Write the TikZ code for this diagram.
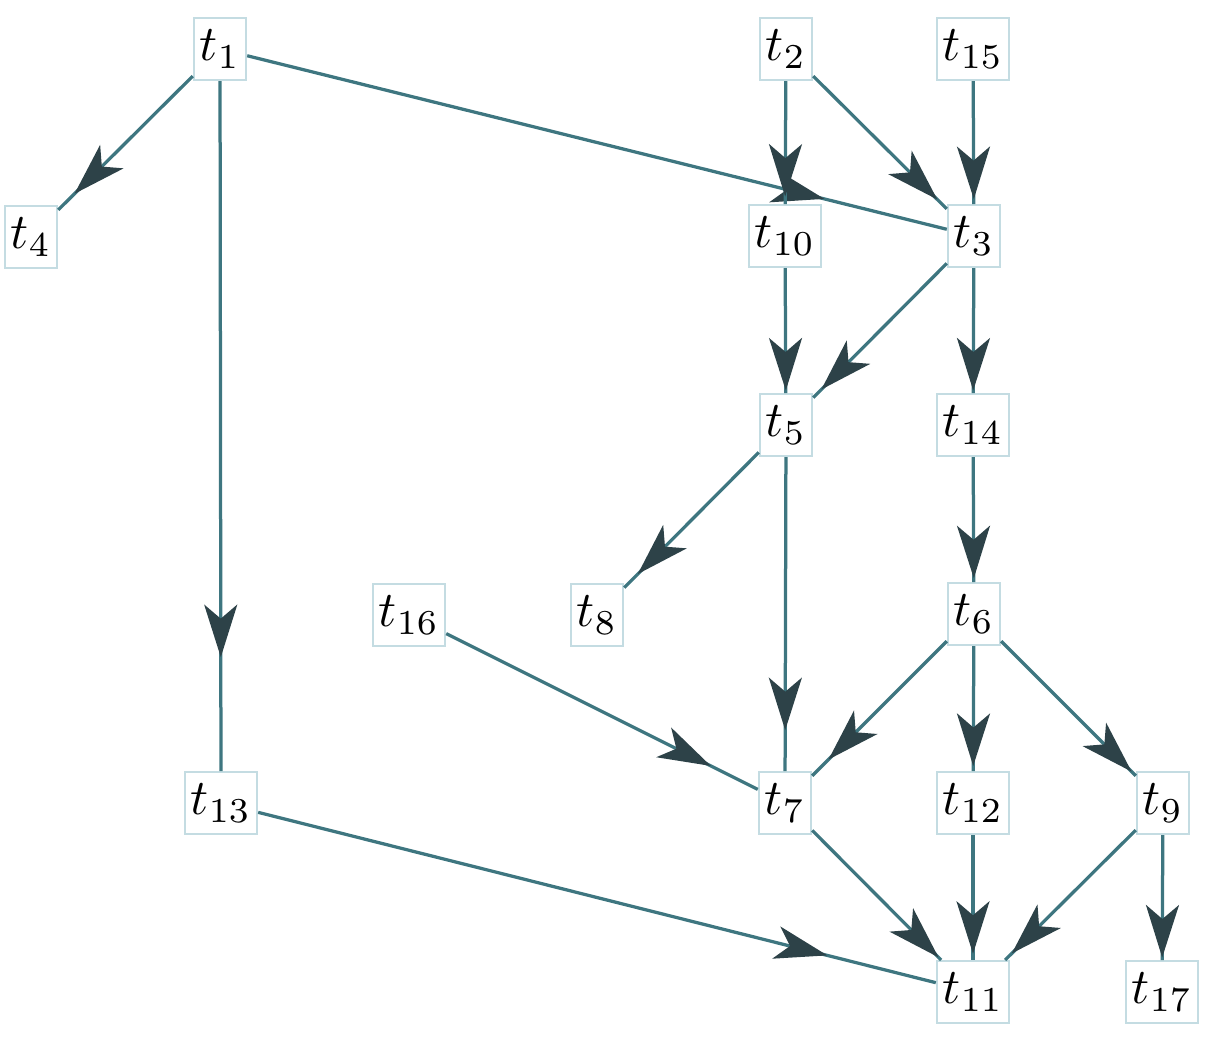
\documentclass[tikz,border=0pt]{standalone}
\usetikzlibrary{arrows.meta,decorations.markings}
\definecolor{boxc}{RGB}{196,220,226}
\definecolor{linec}{RGB}{62,118,128}
\definecolor{arrc}{RGB}{45,66,72}
\tikzset{
  tnode/.style={draw=boxc, line width=0.4pt, fill=white, minimum width=10pt,
    minimum height=12.4pt, inner xsep=1.2pt, inner ysep=0pt},
  conn/.style={draw=linec, line width=0.65pt, postaction={decorate},
    decoration={markings, mark=at position #1 with {\arrow{Stealth[length=10.5pt,width=6.6pt,inset=2.8pt,color=arrc,fill=arrc]}}}}
}
\begin{document}
\begin{tikzpicture}[x=0.2pt,y=-0.2pt]
\useasboundingbox (0,0) rectangle (1215,1043);
\node[tnode] (t1) at (220,49) {$t_1$};
\node[tnode] (t2) at (786,49) {$t_2$};
\node[tnode] (t15) at (973,49) {$t_{15}$};
\node[tnode] (t4) at (31,237) {$t_4$};
\node[tnode] (t10) at (785,236) {$t_{10}$};
\node[tnode] (t3) at (974,236) {$t_3$};
\node[tnode] (t5) at (786,425) {$t_5$};
\node[tnode] (t14) at (973,425) {$t_{14}$};
\node[tnode] (t16) at (409,615) {$t_{16}$};
\node[tnode] (t8) at (597,615) {$t_8$};
\node[tnode] (t6) at (974,614) {$t_6$};
\node[tnode] (t13) at (221,803) {$t_{13}$};
\node[tnode] (t7) at (785,803) {$t_7$};
\node[tnode] (t12) at (973,803) {$t_{12}$};
\node[tnode] (t9) at (1163,803) {$t_9$};
\node[tnode] (t11) at (973,992) {$t_{11}$};
\node[tnode] (t17) at (1162,992) {$t_{17}$};
\draw[conn=0.88] (t1) -- (t4);
\draw[conn=0.835] (t1) -- (t13);
\draw[conn=0.825] (t1) -- (t3);
\draw[conn=0.94] (t2) -- (t10);
\draw[conn=0.93] (t2) -- (t3);
\draw[conn=0.96] (t15) -- (t3);
\draw[conn=0.98] (t10) -- (t5);
\draw[conn=0.94] (t3) -- (t5);
\draw[conn=0.98] (t3) -- (t14);
\draw[conn=0.97] (t14) -- (t6);
\draw[conn=0.9] (t5) -- (t8);
\draw[conn=0.87] (t5) -- (t7);
\draw[conn=0.85] (t16) -- (t7);
\draw[conn=0.88] (t6) -- (t7);
\draw[conn=0.96] (t6) -- (t12);
\draw[conn=0.97] (t6) -- (t9);
\draw[conn=0.98] (t7) -- (t11);
\draw[conn=0.95] (t12) -- (t11);
\draw[conn=0.95] (t9) -- (t11);
\draw[conn=0.98] (t9) -- (t17);
\draw[conn=0.84] (t13) -- (t11);
\end{tikzpicture}
\end{document}
